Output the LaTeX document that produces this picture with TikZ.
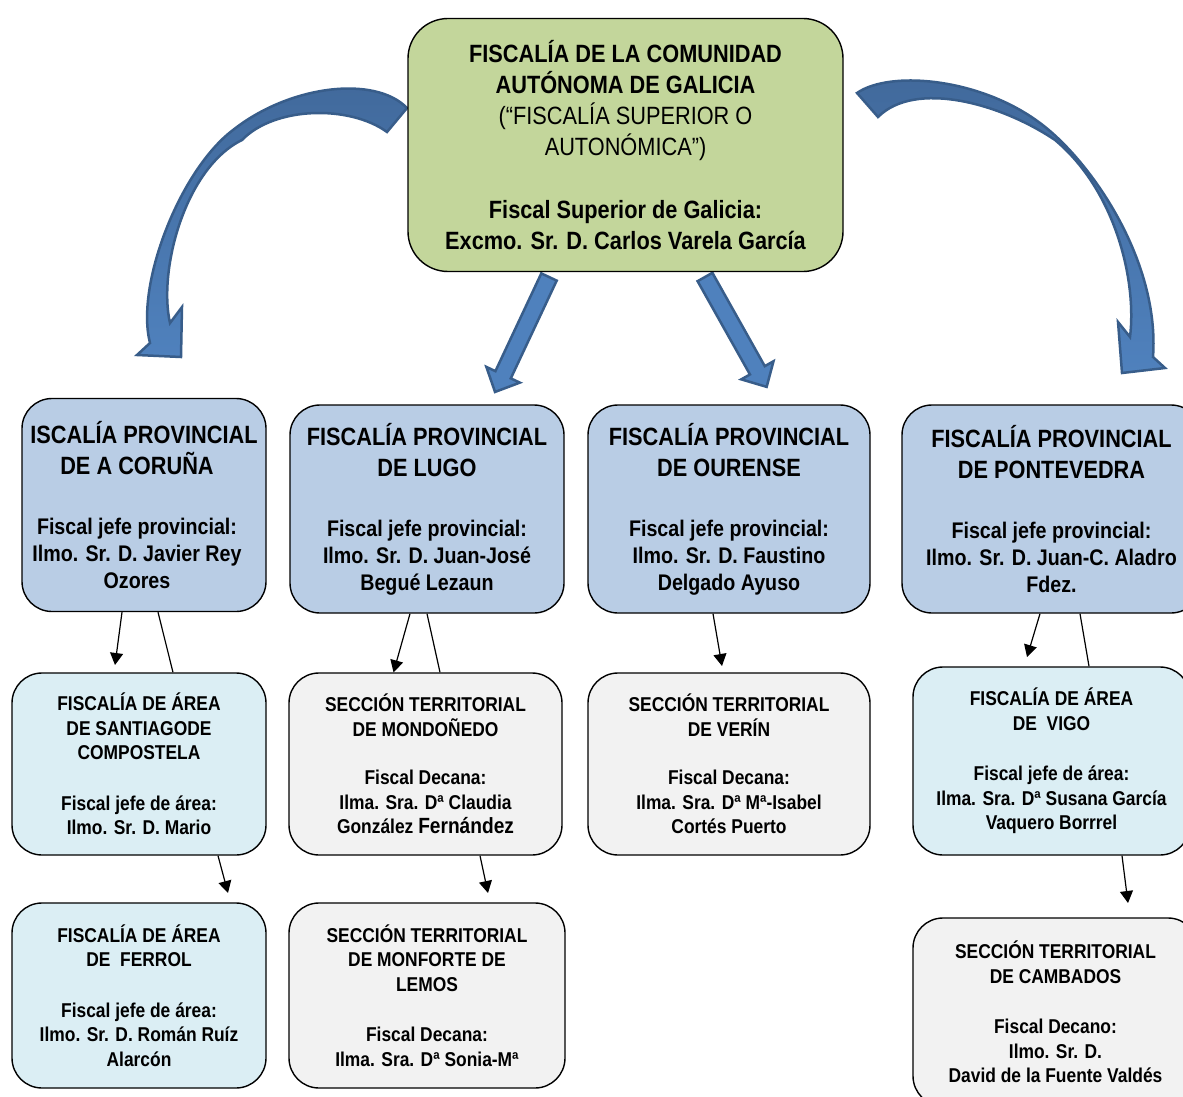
\documentclass[tikz,border=0pt]{standalone}
\usepackage{fontspec}
\setmainfont{Liberation Sans}[FakeStretch=0.87]
\usetikzlibrary{arrows.meta}

\definecolor{topgreen}{HTML}{C3D69B}
\definecolor{provblue}{HTML}{B9CDE5}
\definecolor{areablue}{HTML}{DBEEF4}
\definecolor{secgray}{HTML}{F2F2F2}
\definecolor{arrowblue}{HTML}{4F81BD}
\definecolor{arrowdark}{HTML}{41699B}
\definecolor{arrowedge}{HTML}{385D8A}

\newcommand{\provtitle}[1]{{\fontsize{25}{31}\selectfont #1}}
\newcommand{\padright}{\hbox to 14pt{}}

\begin{document}
\begin{tikzpicture}[
        x=1pt, y=-1pt,
        box/.style={draw, line width=1.4pt, align=center, inner sep=0pt},
        topbox/.style={box, fill=topgreen, rounded corners=40pt, font=\fontsize{25}{31}\selectfont\bfseries},
        provbox/.style={box, fill=provblue, rounded corners=30pt, minimum height=208pt, font=\fontsize{22.6}{27}\selectfont\bfseries},
        areabox/.style={box, fill=areablue, rounded corners=30pt, font=\fontsize{20}{24.5}\selectfont\bfseries},
        secbox/.style={box, fill=secgray, rounded corners=30pt, font=\fontsize{20}{24.5}\selectfont\bfseries},
        link/.style={line width=1.2pt},
        tolink/.style={link, -{Triangle[length=12pt,width=13pt]}},
        blockarrow/.style={draw=arrowedge, line width=2.5pt, fill=arrowblue, line join=miter},
    ]
    \useasboundingbox (0,0) rectangle (1183,1097);

    % big curved arrows
    \draw[blockarrow, top color=arrowdark, bottom color=arrowblue]
        (407,108) .. controls (375,75) and (290,85) .. (233,130)
        .. controls (180,170) and (135,285) .. (150,343)
        -- (137,355) -- (181,357) -- (182,307) -- (170,323)
        .. controls (158,270) and (185,168) .. (242,140)
        .. controls (275,106) and (350,105) .. (387,132) -- cycle;
    \draw[blockarrow, top color=arrowdark, bottom color=arrowblue]
        (857,93) .. controls (890,70) and (980,78) .. (1040,123)
        .. controls (1090,160) and (1160,260) .. (1153,357)
        -- (1165,368) -- (1122,373) -- (1118,322) -- (1130,337)
        .. controls (1137,280) and (1115,190) .. (1055,140)
        .. controls (1000,103) and (915,80) .. (878,117) -- cycle;

    % straight arrows
    \begin{scope}[shift={(549,277)}, rotate=244.85]
        \draw[blockarrow] (0,8.5) -- (108,8.5) -- (108,18.5) -- (127,0)
            -- (108,-18.5) -- (108,-8.5) -- (0,-8.5) -- cycle;
    \end{scope}
    \begin{scope}[shift={(705,277)}, rotate=-60.7]
        \draw[blockarrow] (0,8.5) -- (107,8.5) -- (107,18.5) -- (126,0)
            -- (107,-18.5) -- (107,-8.5) -- (0,-8.5) -- cycle;
    \end{scope}

    \node[topbox, minimum width=435pt, minimum height=253pt] (fiscalia) at (625.5,145)
        {FISCALÍA DE LA COMUNIDAD\\AUTÓNOMA DE GALICIA\\{\mdseries(“FISCALÍA SUPERIOR O}\\{\mdseries AUTONÓMICA”)}\\[32pt]Fiscal Superior de Galicia:\\Excmo. Sr. D. Carlos Varela García};

    % provincial
    \node[provbox, minimum width=244pt, minimum height=213pt] (coruna) at (144,505)
        {\provtitle{ISCALÍA PROVINCIAL}\\[4pt]\provtitle{DE A CORUÑA}\padright\\[33pt]Fiscal jefe provincial:\padright\\Ilmo. Sr. D. Javier Rey\padright\\Ozores\padright};
    \node[provbox, minimum width=274pt] (lugo) at (427,509)
        {\provtitle{FISCALÍA PROVINCIAL}\\[4pt]\provtitle{DE LUGO}\\[33pt]Fiscal jefe provincial:\\Ilmo. Sr. D. Juan-José\\Begué Lezaun};
    \node[provbox, minimum width=282pt] (ourense) at (729,509)
        {\provtitle{FISCALÍA PROVINCIAL}\\[4pt]\provtitle{DE OURENSE}\\[33pt]Fiscal jefe provincial:\\Ilmo. Sr. D. Faustino\\Delgado Ayuso};
    \node[provbox, minimum width=299pt] (ponte) at (1051.5,509)
        {\provtitle{FISCALÍA PROVINCIAL}\\[4pt]\provtitle{DE PONTEVEDRA}\\[33pt]Fiscal jefe provincial:\\Ilmo. Sr. D. Juan-C. Aladro\\Fdez.};

    % areas y secciones
    \node[areabox, minimum width=254pt, minimum height=182pt] (santiago) at (139,764)
        {FISCALÍA DE ÁREA\\DE SANTIAGODE\\COMPOSTELA\\[26pt]Fiscal jefe de área:\\Ilmo. Sr. D. Mario};
    \node[secbox, minimum width=273pt, minimum height=182pt] (mondonedo) at (425.5,764)
        {SECCIÓN TERRITORIAL\\DE MONDOÑEDO\\[24pt]Fiscal Decana:\\Ilma. Sra. Dª Claudia\\González {\fontsize{22}{24}\selectfont Fernández}};
    \node[secbox, minimum width=282pt, minimum height=182pt] (verin) at (729,764)
        {SECCIÓN TERRITORIAL\\DE VERÍN\\[24pt]Fiscal Decana:\\Ilma. Sra. Dª Mª-Isabel\\Cortés Puerto};
    \node[areabox, minimum width=277pt, minimum height=188pt] (vigo) at (1051.5,761)
        {FISCALÍA DE ÁREA\\DE\ \ VIGO\\[26pt]Fiscal jefe de área:\\Ilma. Sra. Dª Susana García\\Vaquero Borrrel};
    \node[areabox, minimum width=254pt, minimum height=185pt] (ferrol) at (139,995.5)
        {FISCALÍA DE ÁREA\\DE\ \ FERROL\\[26pt]Fiscal jefe de área:\\Ilmo. Sr. D. Román Ruíz\\Alarcón};
    \node[secbox, minimum width=276pt, minimum height=185pt] (monforte) at (427,995.5)
        {SECCIÓN TERRITORIAL\\DE MONFORTE DE\\LEMOS\\[26pt]Fiscal Decana:\\Ilma. Sra. Dª Sonia-Mª};
    \node[secbox, minimum width=285pt, minimum height=188pt] (cambados) at (1055.5,1012)
        {SECCIÓN TERRITORIAL\\DE CAMBADOS\\[26pt]Fiscal Decano:\\Ilmo. Sr. D.\\David de la Fuente Valdés};

    % thin connectors
    \coordinate (cor-tip) at (115,665);
    \coordinate (san-tip) at (228,893);
    \coordinate (mon-tip) at (488,893);
    \coordinate (our-tip) at (722,666);
    \coordinate (pon-tip) at (1027,657);
    \coordinate (vig-tip) at (1128,903);

    \draw[tolink] ([xshift=-22pt]coruna.south) -- (cor-tip);
    \draw[link] ([xshift=14pt]coruna.south) -- ([xshift=34pt]santiago.north);
    \draw[tolink] ([xshift=79pt]santiago.south) -- (san-tip);

    \draw[tolink] ([xshift=-17pt]lugo.south) -- ([xshift=-32pt]mondonedo.north);
    \draw[link] (lugo.south) -- ([xshift=14.5pt]mondonedo.north);
    \draw[tolink] ([xshift=54.5pt]mondonedo.south) -- (mon-tip);

    \draw[tolink] ([xshift=-16pt]ourense.south) -- (our-tip);

    \draw[tolink] ([xshift=-11.5pt]ponte.south) -- (pon-tip);
    \draw[link] ([xshift=28.5pt]ponte.south) -- ([xshift=37.5pt]vigo.north);
    \draw[tolink] ([xshift=70.5pt]vigo.south) -- (vig-tip);

\end{tikzpicture}
\end{document}
